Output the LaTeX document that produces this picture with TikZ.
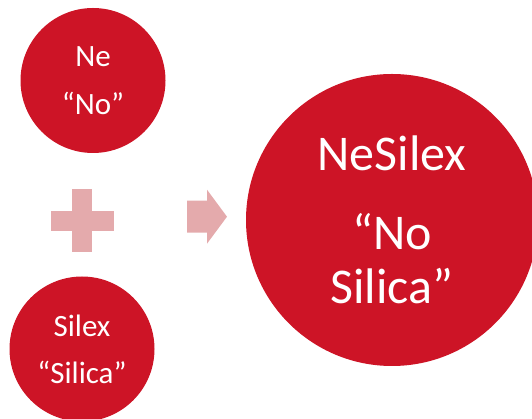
\documentclass[tikz,border=0pt]{standalone}
\usepackage{fontspec}
\setmainfont{Carlito}
\usepackage{xcolor}
\usetikzlibrary{positioning,
	calc}
\definecolor{bubblered}{HTML}{CD1426}
\definecolor{signpink}{HTML}{E4AAAC}
\tikzstyle{bubble}=[circle, fill=bubblered, text=white, inner sep=0,
	align=center]
\tikzstyle{small bubble}=[bubble, minimum size=145pt,
	font=\fontsize{31}{36}\selectfont]
\tikzstyle{big bubble}=[bubble, minimum size=292pt,
	font=\fontsize{50}{54}\selectfont]
\tikzstyle{sign}=[fill=signpink]

\begin{document}
\begin{tikzpicture}[x=1pt, y=1pt]
            \useasboundingbox (0,0) rectangle (532,419);
            % the two parts
            \node[small bubble] (ne) at (93,338.5) {Ne\\[12pt]“No”};
            \node[small bubble] (silex) at (82,70) {Silex\\[11pt]“Silica”};
            % the whole
            \node[big bubble] (nesilex) at (392,199) {NeSilex\\[25pt]“No\\Silica”};
            % plus sign between the parts
            \coordinate (plus) at (82,198.3);
            \fill[sign] ($(plus)+(-31.5,-10)$) rectangle ($(plus)+(31.5,10)$);
            \fill[sign] ($(plus)+(-10,-31.5)$) rectangle ($(plus)+(10,31.5)$);
            % arrow to the whole
            \coordinate (arr) at (187,202.3);
            \fill[sign] ($(arr)+(0,-16)$) -- ++(20,0) -- ++(0,-11) -- ($(arr)+(40,0)$)
                -- ($(arr)+(20,27)$) -- ++(0,-11) -- ($(arr)+(0,16)$) -- cycle;
        \end{tikzpicture}
\end{document}
